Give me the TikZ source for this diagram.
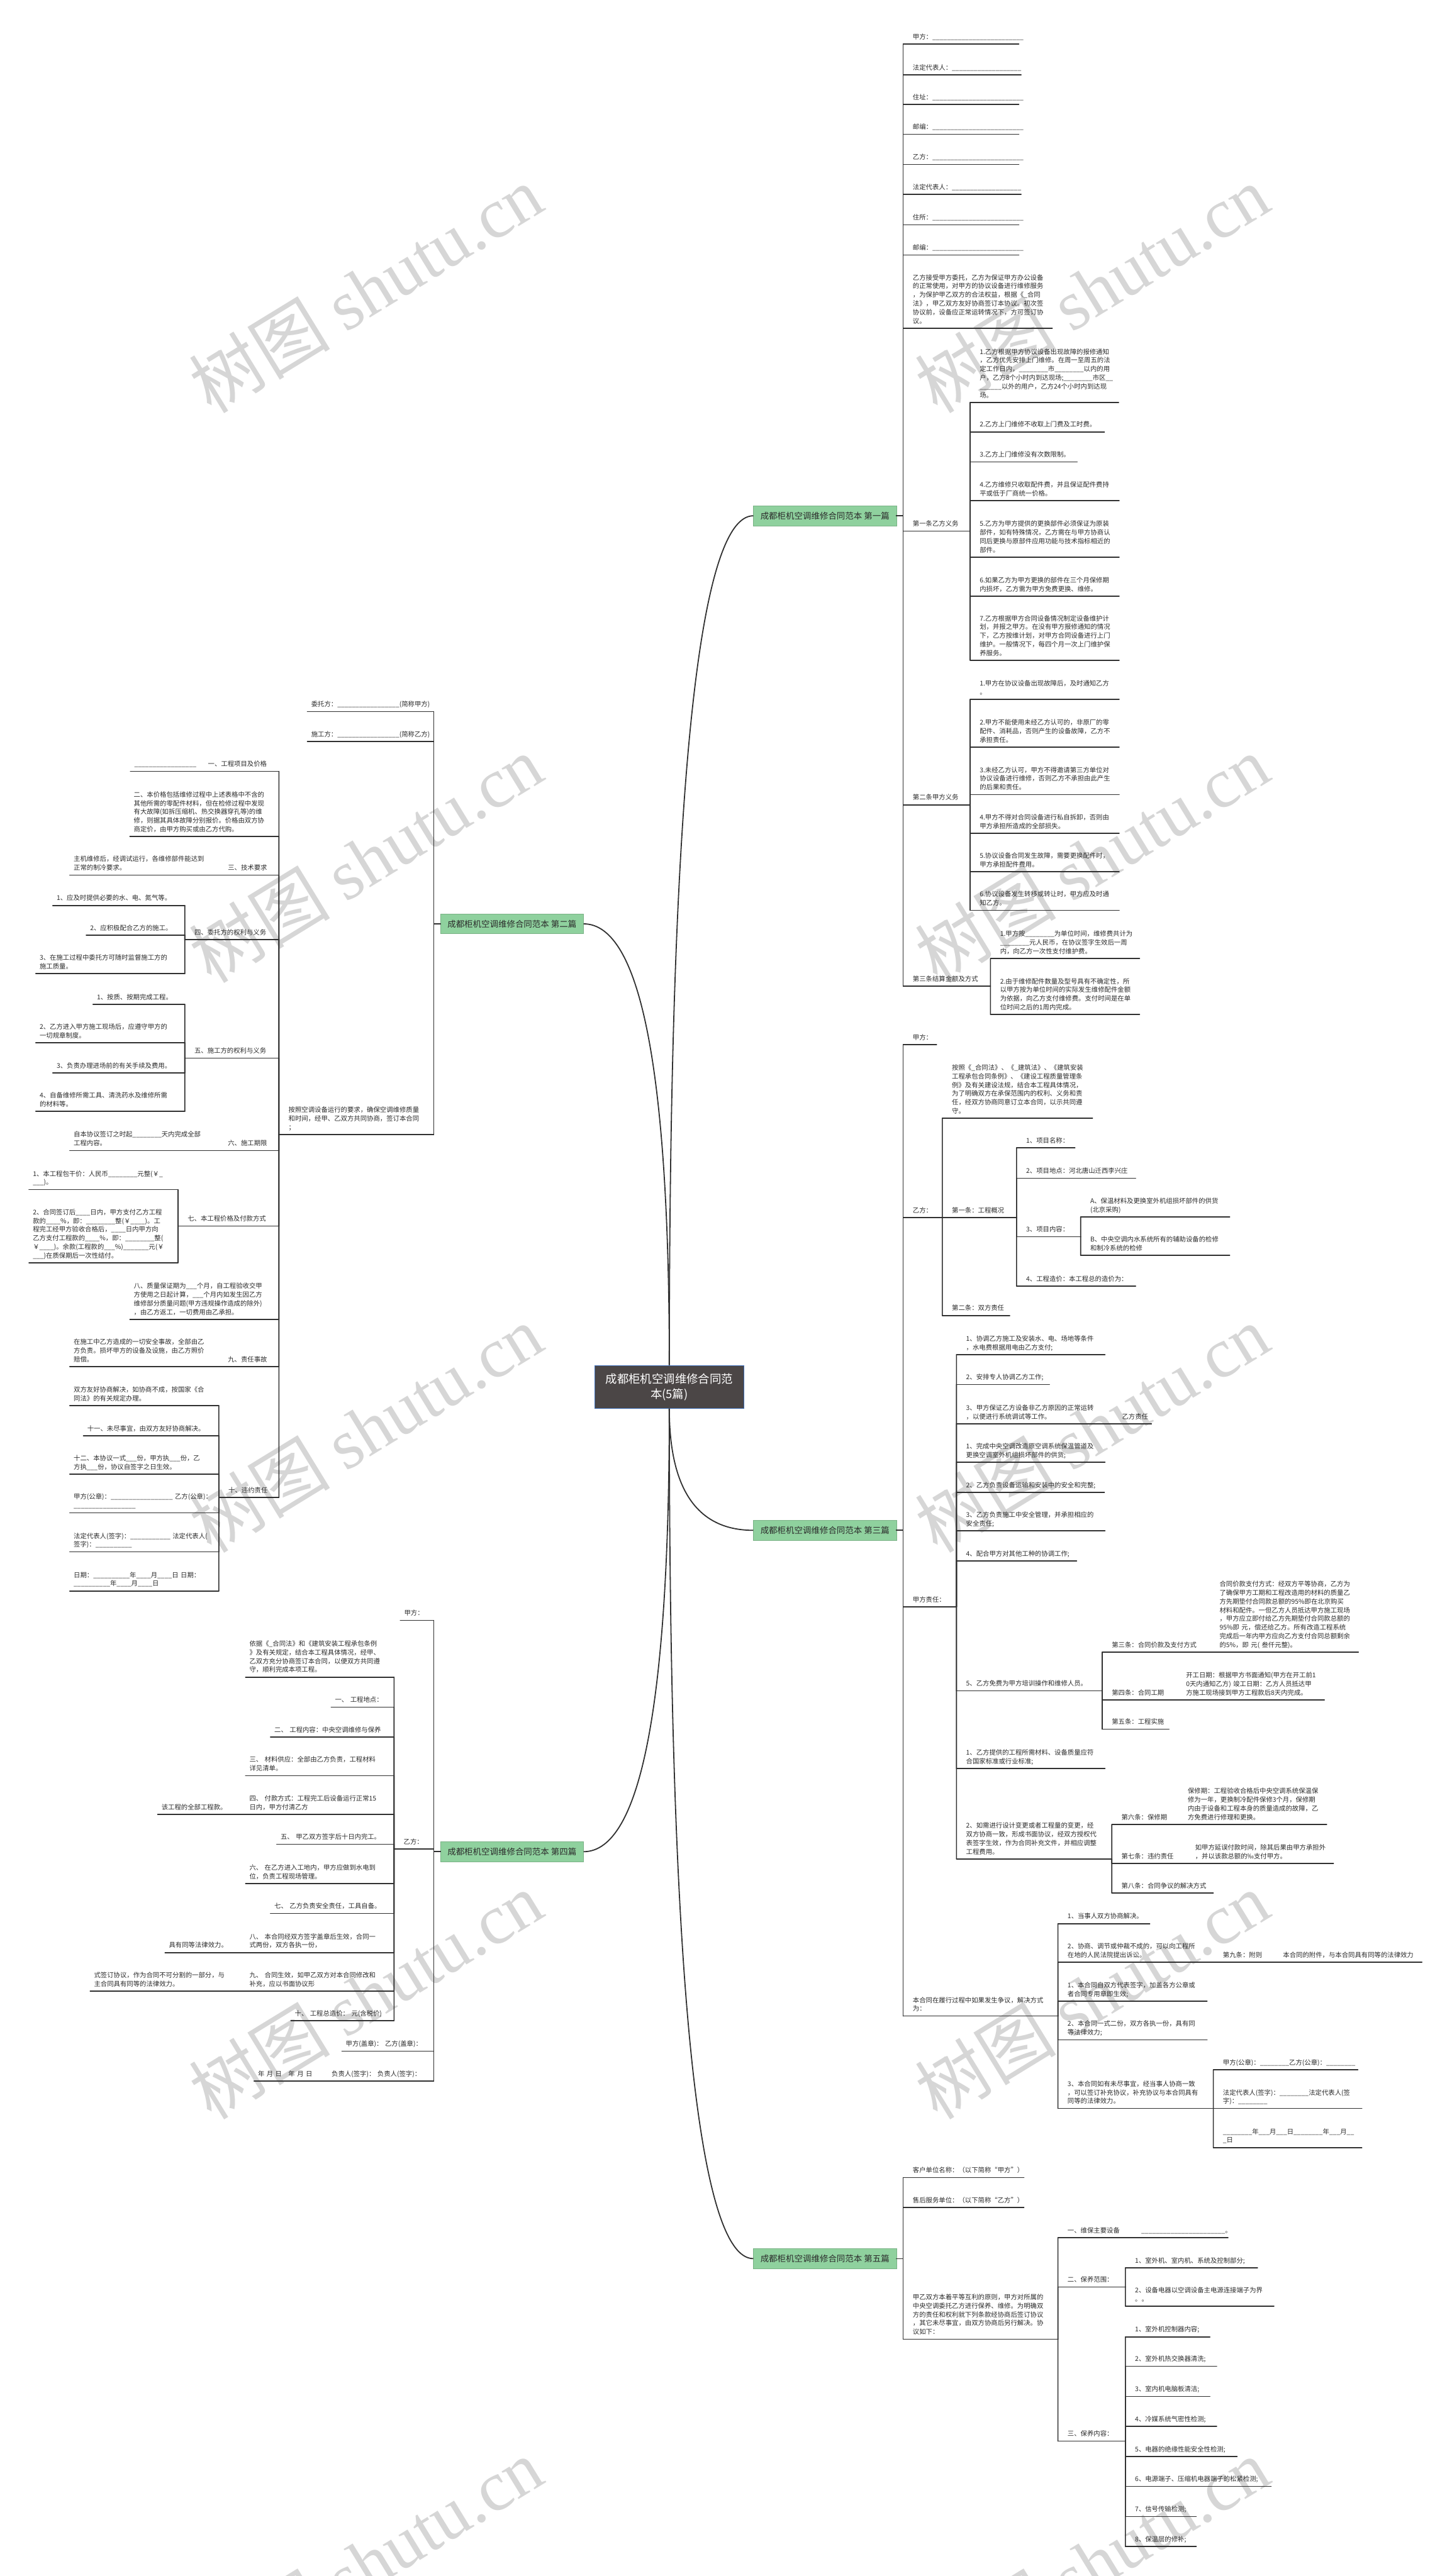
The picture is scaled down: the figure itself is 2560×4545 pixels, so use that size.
\documentclass[tikz,border=0pt]{standalone}
\usepackage{fontspec}
\setmainfont{Noto Sans CJK SC}
\newfontfamily\wmlat{Liberation Serif}
\ExplSyntaxOn
\cs_new:Npn \blk #1 { \prg_replicate:nn {#1} { \textunderscore } }
\ExplSyntaxOff
\newcommand\fnN{\fontsize{11.55pt}{15.35pt}\selectfont}
\newcommand\fnG{\fontsize{15pt}{18pt}\selectfont}
\newcommand\fnC{\fontsize{20.5pt}{27pt}\selectfont}
\newcommand\fnW{\fontsize{125pt}{130pt}\selectfont}
\definecolor{lc}{HTML}{303030}
\definecolor{tc}{HTML}{2B2B2B}
\definecolor{gfill}{HTML}{8FD19E}
\definecolor{cfill}{HTML}{4B4646}
\definecolor{cbord}{HTML}{3E6DB5}
\definecolor{wmc}{HTML}{D6D6D6}
\tikzset{
 nd/.style={anchor=south west, inner xsep=0pt, inner ysep=6.1bp, outer sep=0pt, align=left, font=\fnN, text=tc, execute at end node={\rule[-2.5bp]{0pt}{1bp}}},
 ul/.style={draw=lc, line width=1.8bp, line cap=round},
 br/.style={draw=lc, line width=1.8bp, line cap=round},
 cv/.style={draw=lc, line width=2bp},
 gn/.style={fill=gfill, draw=gfill!85!black, line width=0.6bp, minimum width=252bp, minimum height=35bp, inner sep=0pt, font=\fnG, text=tc},
 cn/.style={fill=cfill, draw=cbord, line width=1bp, minimum width=263bp, minimum height=76bp, inner sep=0pt, align=center, font=\fnC, text=white},
 wm/.style={text=wmc, font=\fnW, rotate=31.5, inner sep=0pt},
}
\newcommand\NA[5]{\node[nd,text width={#3bp-#2bp},execute at begin node={\leftskip=17bp\relax\baselineskip=15.35pt\relax}] (#1) at (#2,#4) {#5};\draw[ul] (#1.south west) -- (#1.south east);}
\newcommand\NB[5]{\node[nd,text width={#3bp-#2bp},execute at begin node={\leftskip=7bp\relax\baselineskip=15.35pt\relax}] (#1) at (#2,#4) {#5};\draw[ul] (#1.south west) -- (#1.south east);}
\begin{document}
\begin{tikzpicture}[x=1bp,y=-1bp]
\useasboundingbox (0,0) rectangle (2560,4545);
\fill[white] (0,0) rectangle (2560,4545);
% watermarks
\foreach \wx in {645,1926}{\foreach \wy in {510,1515,2520,3520,4520}{\node[wm] (wm-\wx-\wy) at (\wx,\wy) {树图~{\wmlat shutu.cn}};}}
% center and branches
\node[cn] (C) at (1180.5,2447) {成都柜机空调维修合同范\\本(5篇)};
\node[gn] (G1) at (1455,910) {成都柜机空调维修合同范本 第一篇};
\node[gn] (G2) at (903,1630) {成都柜机空调维修合同范本 第二篇};
\node[gn] (G3) at (1455,2700) {成都柜机空调维修合同范本 第三篇};
\node[gn] (G4) at (903,3267) {成都柜机空调维修合同范本 第四篇};
\node[gn] (G5) at (1455,3985) {成都柜机空调维修合同范本 第五篇};
\draw[cv] (C.north) .. controls (1180.5,1410) and (1230,910) .. (G1.west);
\draw[cv] (C.north) .. controls (1180.5,1890) and (1130,1630) .. (G2.east);
\draw[cv] (C.south) .. controls (1180.5,2628) and (1230,2700) .. (G3.west);
\draw[cv] (C.south) .. controls (1180.5,3006) and (1130,3267) .. (G4.east);
\draw[cv] (C.south) .. controls (1180.5,3485) and (1230,3985) .. (G5.west);
% ===== 第一篇 =====
\NA{a1}{1593}{1797}{78}{甲方：\blk{25}}
\NA{a2}{1593}{1801}{132}{法定代表人：\blk{19}}
\NA{a3}{1593}{1797}{184.5}{住址：\blk{25}}
\NA{a4}{1593}{1797}{237}{邮编：\blk{25}}
\NA{a5}{1593}{1797}{290}{乙方：\blk{25}}
\NA{a6}{1593}{1801}{343}{法定代表人：\blk{19}}
\NA{a7}{1593}{1797}{396.5}{住所：\blk{25}}
\NA{a8}{1593}{1797}{450}{邮编：\blk{25}}
\NA{a9}{1593}{1856}{579}{乙方接受甲方委托，乙方为保证甲方办公设备\\的正常使用，对甲方的协议设备进行维修服务\\，为保护甲乙双方的合法权益，根据《\_合同\\法》，甲乙双方友好协商签订本协议。初次签\\协议前，设备应正常运转情况下，方可签订协\\议。}
\NA{a10}{1593}{1711}{937}{第一条乙方义务}
\NA{a11}{1593}{1711}{1420}{第二条甲方义务}
\NA{a12}{1593}{1747}{1740}{第三条结算金额及方式}
\NA{b1}{1711}{1973}{710}{1.乙方根据甲方协议设备出现故障的报修通知\\，乙方优先安排上门维修。在周一至周五的法\\定工作日内，\blk{8}市\blk{8}以内的用\\户，乙方8个小时内到达现场;\blk{8}市区\blk{2}\\\blk{6}以外的用户，乙方24个小时内到达现\\场。}
\NA{b2}{1711}{1948}{762}{2.乙方上门维修不收取上门费及工时费。}
\NA{b3}{1711}{1900}{815}{3.乙方上门维修没有次数限制。}
\NA{b4}{1711}{1974}{883}{4.乙方维修只收取配件费，并且保证配件费持\\平或低于厂商统一价格。}
\NA{b5}{1711}{1974}{983}{5.乙方为甲方提供的更换部件必须保证为原装\\部件，如有特殊情况，乙方需在与甲方协商认\\同后更换与原部件应用功能与技术指标相近的\\部件。}
\NA{b6}{1711}{1974}{1052}{6.如果乙方为甲方更换的部件在三个月保修期\\内损坏，乙方需为甲方免费更换、维修。}
\NA{b7}{1711}{1974}{1165}{7.乙方根据甲方合同设备情况制定设备维护计\\划，并报之甲方。在没有甲方报修通知的情况\\下，乙方按维计划，对甲方合同设备进行上门\\维护。一般情况下，每四个月一次上门维护保\\养服务。}
\NA{c1}{1711}{1974}{1234}{1.甲方在协议设备出现故障后，及时通知乙方\\。}
\NA{c2}{1711}{1974}{1318}{2.甲方不能使用未经乙方认可的，非原厂的零\\配件、消耗品，否则产生的设备故障，乙方不\\承担责任。}
\NA{c3}{1711}{1974}{1402}{3.未经乙方认可，甲方不得邀请第三方单位对\\协议设备进行维修，否则乙方不承担由此产生\\的后果和责任。}
\NA{c4}{1711}{1974}{1470}{4.甲方不得对合同设备进行私自拆卸，否则由\\甲方承担所造成的全部损失。}
\NA{c5}{1711}{1974}{1538}{5.协议设备合同发生故障，需要更换配件时，\\甲方承担配件费用。}
\NA{c6}{1711}{1974}{1606}{6.协议设备发生转移或转让时，甲方应及时通\\知乙方。}
\NA{d1}{1747}{2010}{1691}{1.甲方按\blk{8}为单位时间，维修费共计为\\\blk{8}元人民币，在协议签字生效后一周\\内，向乙方一次性支付维护费。}
\NA{d2}{1747}{2010}{1790}{2.由于维修配件数量及型号具有不确定性，所\\以甲方按为单位时间的实际发生维修配件金额\\为依据，向乙方支付维修费。支付时间是在单\\位时间之后的1周内完成。}
\foreach \nn in {a1,a2,a3,a4,a5,a6,a7,a8,a9,a10,a11,a12} \draw[br] (G1.east) -| (\nn.south west);
\foreach \nn in {b1,b2,b3,b4,b5,b6,b7} \draw[br] (a10.south east) -- (\nn.south west);
\foreach \nn in {c1,c2,c3,c4,c5,c6} \draw[br] (a11.south east) -- (\nn.south west);
\foreach \nn in {d1,d2} \draw[br] (a12.south east) -- (\nn.south west);
% ===== 第三篇 =====
\NA{e1}{1593}{1652}{1843}{甲方：}
\NA{e2}{1593}{1662}{2148}{乙方：}
\NA{e3}{1593}{1687}{2835}{甲方责任：}
\NA{e4}{1593}{1866}{3557}{本合同在履行过程中如果发生争议，解决方式\\为：}
\NA{f1}{1662}{1927}{1973}{按照《\_合同法》、《\_建筑法》、《建筑安装\\工程承包合同条例》、《建设工程质量管理条\\例》及有关建设法规，结合本工程具体情况，\\为了明确双方在承保范围内的权利、义务和责\\任，经双方协商同意订立本合同，以示共同遵\\守。}
\NA{f2}{1662}{1793}{2148}{第一条：工程概况}
\NA{f3}{1662}{1781}{2321}{第二条：双方责任}
\NA{p1}{1793}{1896}{2025}{1、项目名称：}
\NA{p2}{1793}{2003}{2079}{2、项目地点：河北唐山迁西李兴庄}
\NA{p3}{1793}{1906}{2182}{3、项目内容：}
\NA{p4}{1793}{2003}{2269}{4、工程造价：本工程总的造价为：}
\NA{h1}{1906}{2169}{2147}{A、保温材料及更换室外机组损坏部件的供货\\(北京采购)}
\NA{h2}{1906}{2169}{2215}{B、中央空调内水系统所有的辅助设备的检修\\和制冷系统的检修}
\NA{i1}{1687}{1949}{2390}{1、协调乙方施工及安装水、电、场地等条件\\，水电费根据用电由乙方支付;}
\NA{i2}{1687}{1851}{2443}{2、安排专人协调乙方工作;}
\NA{i3}{1687}{1962}{2512}{3、甲方保证乙方设备非乙方原因的正常运转\\，以便进行系统调试等工作。}
\NA{j1}{1962}{2031}{2512}{乙方责任}
\NA{i4}{1687}{1949}{2580}{1、完成中央空调改造原空调系统保温管道及\\更换空调室外机组损坏部件的供货;}
\NA{i5}{1687}{1948}{2633}{2、乙方负责设备运输和安装中的安全和完整;}
\NA{i6}{1687}{1949}{2701}{3、乙方负责施工中安全管理，并承担相应的\\安全责任;}
\NA{i7}{1687}{1899}{2754}{4、配合甲方对其他工种的协调工作;}
\NA{i8}{1687}{1944}{2983}{5、乙方免费为甲方培训操作和维修人员。}
\NA{i9}{1687}{1949}{3120}{1、乙方提供的工程所需材料、设备质量应符\\合国家标准或行业标准;}
\NA{i10}{1687}{1961}{3280}{2、如需进行设计变更或者工程量的变更，经\\双方协商一致，形成书面协议，经双方授权代\\表签字生效，作为合同补充文件，并相应调整\\工程费用。}
\NA{k1}{1944}{2134}{2915}{第三条：合同价款及支付方式}
\NA{l1}{2134}{2396}{2915}{合同价款支付方式：经双方平等协商，乙方为\\了确保甲方工期和工程改造用的材料的质量乙\\方先期垫付合同款总额的95\%即在北京购买\\材料和配件。一但乙方人员抵达甲方施工现场\\，甲方应立即付给乙方先期垫付合同款总额的\\95\%即~元，偿还给乙方。所有改造工程系统\\完成后一年内甲方应向乙方支付合同总额剩余\\的5\%，即~元(~叁仟元整)。}
\NA{k2}{1944}{2075}{2999}{第四条：合同工期}
\NA{l2}{2075}{2336}{2999}{开工日期：根据甲方书面通知(甲方在开工前1\\0天内通知乙方)~竣工日期：乙方人员抵达甲\\方施工现场接到甲方工程款后8天内完成。}
\NA{k3}{1944}{2062}{3051}{第五条：工程实施}
\NA{m1}{1961}{2078}{3219}{第六条：保修期}
\NA{n1}{2078}{2340}{3219}{保修期：工程验收合格后中央空调系统保温保\\修为一年，更换制冷配件保修3个月，保修期\\内由于设备和工程本身的质量造成的故障，乙\\方免费进行修理和更换。}
\NA{m2}{1961}{2091}{3288}{第七条：违约责任}
\NA{n2}{2091}{2352}{3288}{如甲方延误付款时间，除其后果由甲方承担外\\，并以该款总额的‰支付甲方。}
\NA{m3}{1961}{2140}{3340}{第八条：合同争议的解决方式}
\NA{o1}{1866}{2028}{3394}{1、当事人双方协商解决。}
\NA{o2}{1866}{2140}{3462}{2、协商、调节或仲裁不成的，可以向工程所\\在地的人民法院提出诉讼。}
\NA{q0}{2140}{2246}{3462}{第九条：附则}
\NA{q1}{2246}{2508}{3462}{本合同的附件，与本合同具有同等的法律效力}
\NA{o3}{1866}{2129}{3531}{1、本合同自双方代表签字，加盖各方公章或\\者合同专用章即生效;}
\NA{o4}{1866}{2129}{3599}{2、本合同一式二份，双方各执一份，具有同\\等法律效力;}
\NA{o5}{1866}{2140}{3720}{3、本合同如有未尽事宜，经当事人协商一致\\，可以签订补充协议，补充协议与本合同具有\\同等的法律效力。}
\NA{r1}{2140}{2395}{3652}{甲方(公章)：\blk{8}乙方(公章)：\blk{8}}
\NA{r2}{2140}{2402}{3720}{法定代表人(签字)：\blk{8}法定代表人(签\\字)：\blk{8}}
\NA{r3}{2140}{2402}{3789}{\blk{8}年\blk{3}月\blk{3}日\blk{8}年\blk{3}月\blk{2}\\\blk{1}日}
\foreach \nn in {e1,e2,e3,e4} \draw[br] (G3.east) -| (\nn.south west);
\foreach \nn in {f1,f2,f3} \draw[br] (e2.south east) -- (\nn.south west);
\foreach \nn in {p1,p2,p3,p4} \draw[br] (f2.south east) -- (\nn.south west);
\foreach \nn in {h1,h2} \draw[br] (p3.south east) -- (\nn.south west);
\foreach \nn in {i1,i2,i3,i4,i5,i6,i7,i8,i9,i10} \draw[br] (e3.south east) -- (\nn.south west);
\draw[br] (i3.south east) -- (j1.south west);
\foreach \nn in {k1,k2,k3} \draw[br] (i8.south east) -- (\nn.south west);
\draw[br] (k1.south east) -- (l1.south west);
\draw[br] (k2.south east) -- (l2.south west);
\foreach \nn in {m1,m2,m3} \draw[br] (i10.south east) -- (\nn.south west);
\draw[br] (m1.south east) -- (n1.south west);
\draw[br] (m2.south east) -- (n2.south west);
\foreach \nn in {o1,o2,o3,o4,o5} \draw[br] (e4.south east) -- (\nn.south west);
\draw[br] (o2.south east) -- (q0.south west);
\draw[br] (q0.south east) -- (q1.south west);
\foreach \nn in {r1,r2,r3} \draw[br] (o5.south east) -- (\nn.south west);
% ===== 第五篇 =====
\NA{s1}{1593}{1806}{3842}{客户单位名称：（以下简称“甲方”）}
\NA{s2}{1593}{1806}{3895}{售后服务单位：（以下简称“乙方”）}
\NA{s3}{1593}{1866}{4127}{甲乙双方本着平等互利的原则，甲方对所属的\\中央空调委托乙方进行保养、维修。为明确双\\方的责任和权利就下列条款经协商后签订协议\\，其它未尽事宜，由双方协商后另行解决。协\\议如下：}
\NA{t1}{1866}{1996}{3948}{一、维保主要设备}
\NA{u0}{1996}{2166}{3948}{\blk{23}。}
\NA{t2}{1866}{1985}{4035}{二、保养范围：}
\NA{u1}{1985}{2218}{4001}{1、室外机、室内机、系统及控制部分;}
\NA{u2}{1985}{2247}{4069}{2、设备电器以空调设备主电源连接端子为界\\。。}
\NA{t3}{1866}{1985}{4307}{三、保养内容：}
\NA{v1}{1985}{2134}{4123}{1、室外机控制器内容;}
\NA{v2}{1985}{2146}{4175}{2、室外机热交换器清洗;}
\NA{v3}{1985}{2134}{4228}{3、室内机电脑板清洁;}
\NA{v4}{1985}{2146}{4281}{4、冷媒系统气密性检测;}
\NA{v5}{1985}{2182}{4334}{5、电器的绝缘性能安全性检测;}
\NA{v6}{1985}{2242}{4387}{6、电源端子、压缩机电器端子的松紧检测;}
\NA{v7}{1985}{2110}{4440}{7、信号传输检测;}
\NA{v8}{1985}{2110}{4493}{8、保温层的修补;}
\foreach \nn in {s1,s2,s3} \draw[br] (G5.east) -| (\nn.south west);
\foreach \nn in {t1,t2,t3} \draw[br] (s3.south east) -- (\nn.south west);
\draw[br] (t1.south east) -- (u0.south west);
\foreach \nn in {u1,u2} \draw[br] (t2.south east) -- (\nn.south west);
\foreach \nn in {v1,v2,v3,v4,v5,v6,v7,v8} \draw[br] (t3.south east) -- (\nn.south west);
% ===== 第二篇 =====
\NB{w1}{542}{765}{1255.5}{委托方：\blk{17}(简称甲方)}
\NB{w2}{542}{765}{1308}{施工方：\blk{17}(简称乙方)}
\NA{w3}{492}{765}{2002}{按照空调设备运行的要求，确保空调维修质量\\和时间，经甲、乙双方共同协商，签订本合同\\；}
\NB{x1n}{360}{492}{1361}{一、工程项目及价格}
\NB{y1}{230}{360}{1361}{\blk{17}}
\NB{x2n}{229}{492}{1476}{二、本价格包括维修过程中上述表格中不含的\\其他所需的零配件材料，但在检修过程中发现\\有大故障(如拆压缩机、热交换器穿孔等)的维\\修，则据其具体故障分别报价。价格由双方协\\商定价，由甲方购买或由乙方代购。}
\NB{x3n}{395}{492}{1544}{三、技术要求}
\NB{y3}{123}{395}{1544}{主机维修后，经调试运行，各维修部件能达到\\正常的制冷要求。}
\NA{x4n}{326}{492}{1658}{四、委托方的权利与义务}
\NB{z1}{93}{326}{1597.5}{1、应及时提供必要的水、电、氮气等。}
\NB{z2}{152}{326}{1650}{2、应积极配合乙方的施工。}
\NB{z3}{63}{326}{1718}{3、在施工过程中委托方可随时监督施工方的\\施工质量。}
\NA{x5n}{326}{492}{1867}{五、施工方的权利与义务}
\NB{z4}{164}{326}{1772}{1、按质、按期完成工程。}
\NB{z5}{63}{326}{1840}{2、乙方进入甲方施工现场后，应遵守甲方的\\一切规章制度。}
\NB{z6}{93}{326}{1893}{3、负责办理进场前的有关手续及费用。}
\NB{z7}{63}{326}{1961}{4、自备维修所需工具、清洗药水及维修所需\\的材料等。}
\NB{x6n}{395}{492}{2030}{六、施工期限}
\NB{y6}{123}{395}{2030}{自本协议签订之时起\blk{8}天内完成全部\\工程内容。}
\NA{x7n}{314}{492}{2163}{七、本工程价格及付款方式}
\NB{z8}{51}{314}{2099}{1、本工程包干价：人民币\blk{8}元整(￥\blk{1}\\\blk{3})。}
\NB{z9}{51}{314}{2228}{2、合同签订后\blk{4}日内，甲方支付乙方工程\\款的\blk{4}\%，即：\blk{8}整(￥\blk{4})。工\\程完工经甲方验收合格后，\blk{4}日内甲方向\\乙方支付工程款的\blk{4}\%，即：\blk{8}整(\\￥\blk{4})。余款(工程款的\blk{3}\%)\blk{7}元(￥\\\blk{3})在质保期后一次性结付。}
\NB{x8n}{229}{492}{2328}{八、质量保证期为\blk{3}个月，自工程验收交甲\\方使用之日起计算，\blk{3}个月内如发生因乙方\\维修部分质量问题(甲方违规操作造成的除外)\\，由乙方返工，一切费用由乙承担。}
\NB{x9n}{395}{492}{2411}{九、责任事故}
\NB{y9}{123}{395}{2411}{在施工中乙方造成的一切安全事故，全部由乙\\方负责。损坏甲方的设备及设施，由乙方照价\\赔偿。}
\NA{x10n}{386}{492}{2642}{十、违约责任}
\NB{za}{123}{386}{2480}{双方友好协商解决，如协商不成，按国家《合\\同法》的有关规定办理。}
\NB{zb}{147}{386}{2533}{十一、未尽事宜，由双方友好协商解决。}
\NB{zc}{123}{386}{2601}{十二、本协议一式\blk{3}份，甲方执\blk{3}份，乙\\方执\blk{3}份，协议自签字之日生效。}
\NB{zd}{123}{386}{2669}{甲方(公章)：\blk{17}~乙方(公章)：\\\blk{17}}
\NB{ze}{123}{386}{2738}{法定代表人(签字)：\blk{11}~法定代表人(\\签字)：\blk{10}}
\NB{zf}{123}{386}{2807}{日期：\blk{10}年\blk{4}月\blk{4}日~日期：\\\blk{10}年\blk{4}月\blk{4}日}
\foreach \nn in {w1,w2,w3} \draw[br] (G2.west) -| (\nn.south east);
\foreach \nn in {x1n,x2n,x3n,x4n,x5n,x6n,x7n,x8n,x9n,x10n} \draw[br] (w3.south west) -- (\nn.south east);
\draw[br] (x1n.south west) -- (y1.south east);
\draw[br] (x3n.south west) -- (y3.south east);
\draw[br] (x6n.south west) -- (y6.south east);
\draw[br] (x9n.south west) -- (y9.south east);
\foreach \nn in {z1,z2,z3} \draw[br] (x4n.south west) -- (\nn.south east);
\foreach \nn in {z4,z5,z6,z7} \draw[br] (x5n.south west) -- (\nn.south east);
\foreach \nn in {z8,z9} \draw[br] (x7n.south west) -- (\nn.south east);
\foreach \nn in {za,zb,zc,zd,ze,zf} \draw[br] (x10n.south west) -- (\nn.south east);
% ===== 第四篇 =====
\NB{Aa}{706}{765}{2859}{甲方：}
\NA{Ab}{695}{765}{3262}{乙方：}
\NB{Ac}{603}{765}{3619}{甲方(盖章)：~乙方(盖章)：}
\NB{Ad}{578}{765}{3672}{负责人(签字)：~负责人(签字)：}
\NB{Ae}{448}{578}{3672}{年~月~日~~~年~月~日}
\NB{Ba}{433}{695}{2959}{依据《\_合同法》和《建筑安装工程承包条例\\》及有关规定，结合本工程具体情况，经甲、\\乙双方充分协商签订本合同，以便双方共同遵\\守，顺利完成本项工程。}
\NB{Bb}{584}{695}{3012}{一、~工程地点：}
\NB{Bc}{477}{695}{3065}{二、~工程内容：中央空调维修与保养}
\NB{Bd}{433}{695}{3133}{三、~材料供应：全部由乙方负责，工程材料\\详见清单。}
\NB{Be}{433}{695}{3201}{四、~付款方式：工程完工后设备运行正常15\\日内，甲方付清乙方}
\NB{Bf}{278}{433}{3201}{该工程的全部工程款。}
\NB{Bg}{488}{695}{3254}{五、~甲乙双方签字后十日内完工。}
\NB{Bh}{433}{695}{3323}{六、~在乙方进入工地内，甲方应做到水电到\\位，负责工程现场管理。}
\NB{Bi}{477}{695}{3376}{七、~乙方负责安全责任，工具自备。}
\NB{Bj}{433}{695}{3445}{八、~本合同经双方签字盖章后生效，合同一\\式两份，双方各执一份，}
\NB{Bk}{291}{433}{3445}{具有同等法律效力。}
\NB{Bl}{433}{695}{3513}{九、~合同生效，如甲乙双方对本合同修改和\\补充，应以书面协议形}
\NB{Bm}{159}{433}{3513}{式签订协议，作为合同不可分割的一部分，与\\主合同具有同等的法律效力。}
\NB{Bn}{513}{695}{3565}{十、~工程总造价：~元(含税价)}
\foreach \nn in {Aa,Ab,Ac,Ad} \draw[br] (G4.west) -| (\nn.south east);
\draw[br] (Ad.south west) -- (Ae.south east);
\foreach \nn in {Ba,Bb,Bc,Bd,Be,Bg,Bh,Bi,Bj,Bl,Bn} \draw[br] (Ab.south west) -- (\nn.south east);
\draw[br] (Be.south west) -- (Bf.south east);
\draw[br] (Bj.south west) -- (Bk.south east);
\draw[br] (Bl.south west) -- (Bm.south east);
\end{tikzpicture}
\end{document}
